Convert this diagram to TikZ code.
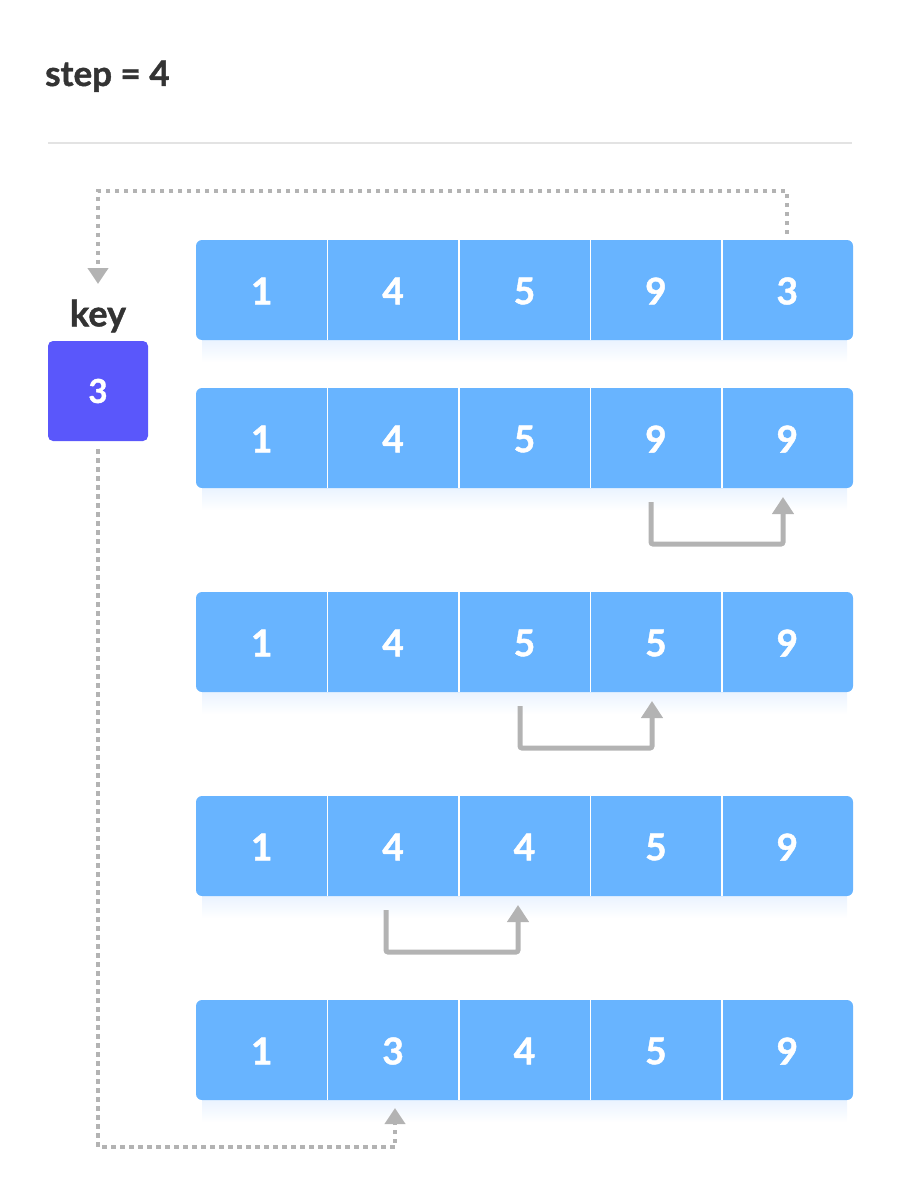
\documentclass[tikz,border=0pt]{standalone}
\usepackage{fontspec}
\setmainfont{Lato}[BoldFeatures={FakeBold=1.2}]
\usetikzlibrary{arrows.meta,calc}
\definecolor{cellblue}{HTML}{68B4FF}
\definecolor{keyblue}{HTML}{5A57FB}
\definecolor{arrowgray}{HTML}{B3B3B3}
\definecolor{titlegray}{HTML}{333333}
\definecolor{shadowblue}{HTML}{EAF3FF}
\definecolor{rulegray}{HTML}{E3E3E3}
\begin{document}
\begin{tikzpicture}[x=1pt,y=-1pt,
  rowbox/.style={fill=cellblue, rounded corners=6pt, draw=none},
  celltext/.style={text=white, font=\fontsize{37}{37}\bfseries, inner sep=0pt, minimum width=131.4pt, minimum height=100pt},
  divider/.style={white, line width=1.6pt},
  dotline/.style={arrowgray, line width=4pt, dash pattern=on 4.5pt off 4.5pt},
  dottip/.style={-{Triangle[width=20pt,length=16pt]}},
  movearrow/.style={arrowgray, line width=5pt, rounded corners=2pt, -{Triangle[width=21pt,length=17pt]}},
  shadowbar/.style={top color=shadowblue, bottom color=white, draw=none}
]
\useasboundingbox (0,0) rectangle (902,1196);

% title and rule
\node[anchor=base west, inner sep=0pt, text=titlegray, font=\fontsize{35}{35}\bfseries] (title) at (45,86) {step = 4};
\draw[rulegray, line width=2pt] (48,143) -- (852,143);

% rows
\foreach \r/\yc/\vals in {1/290/{1,4,5,9,3}, 2/438/{1,4,5,9,9}, 3/642/{1,4,5,5,9}, 4/846/{1,4,4,5,9}, 5/1050/{1,3,4,5,9}} {
  \shade[shadowbar] (202,\yc+50) rectangle (847,\yc+72);
  \fill[rowbox] (196,\yc-50) rectangle (853,\yc+50);
  \foreach \v [count=\c] in \vals {
    \node[celltext] (r\r-\c) at ({196+131.4*(\c-0.5)},\yc+1) {\v};
  }
  \foreach \c in {1,2,3,4} {
    \draw[divider] ($(r\r-\c.north east)+(0,-1)$) -- ($(r\r-\c.south east)+(0,-1)$);
  }
}

% key
\node[inner sep=0pt, text=titlegray, font=\fontsize{36}{36}\bfseries] (keylabel) at (98,316) {key};
\node[fill=keyblue, rounded corners=5pt, minimum size=100pt, inner sep=0pt, text=white, font=\fontsize{33}{33}\bfseries] (key) at (98,391) {3};

% dotted connectors
\coordinate (topstart) at (787.3,234);
\coordinate (topend) at (98,284);
\draw[dotline, dottip] (topstart) -- ++(0,-43) -| (topend);

\coordinate (botstart) at (98,449);
\coordinate (botend) at (395,1108);
\draw[dotline, dottip] (botstart) |- ($(botend)+(0,39)$) -- (botend);

% shift arrows
\coordinate (s2) at (651,502);
\coordinate (e2) at (783,497);
\draw[movearrow] (s2) -- ++(0,42) -| (e2);
\coordinate (s3) at (520,706);
\coordinate (e3) at (652,701);
\draw[movearrow] (s3) -- ++(0,42) -| (e3);
\coordinate (s4) at (386,910);
\coordinate (e4) at (518,905);
\draw[movearrow] (s4) -- ++(0,42) -| (e4);
\end{tikzpicture}
\end{document}
